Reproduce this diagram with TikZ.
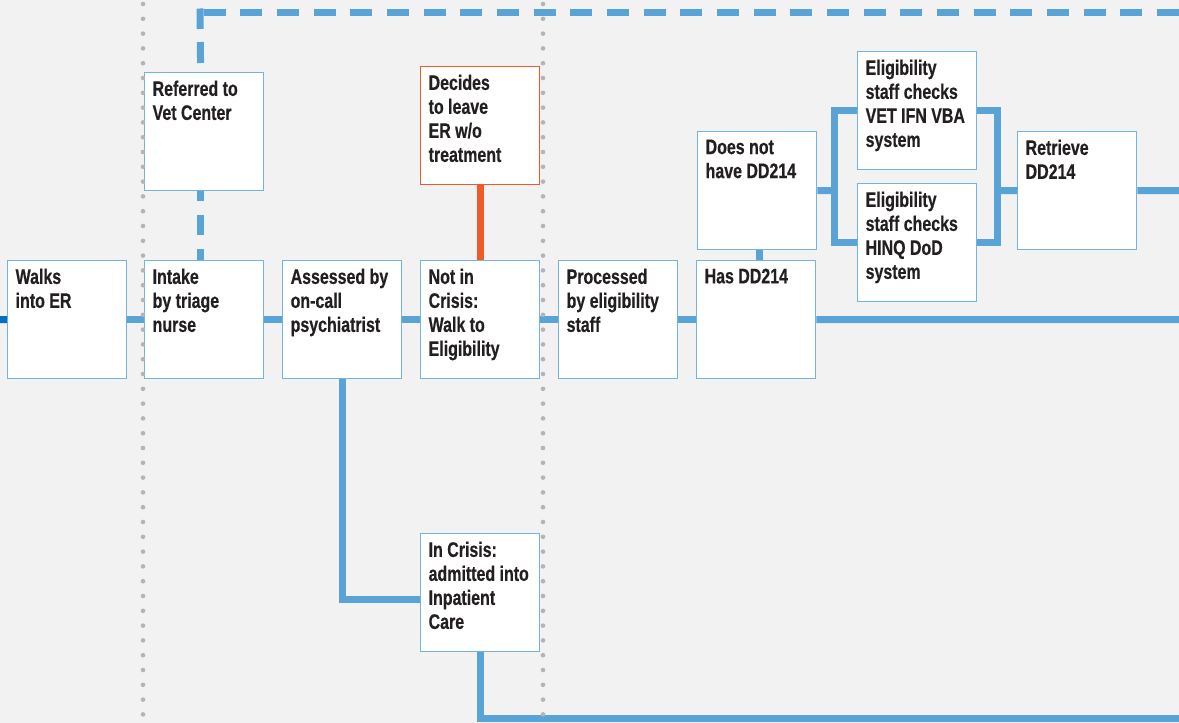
\documentclass[tikz,border=0pt]{standalone}
\usepackage{fontspec}
\newfontfamily\stagefont{Liberation Sans}[FakeStretch=0.76, BoldFeatures={FakeBold=0.4}]
\usepackage{xcolor}
\usepackage{tikz}
\usetikzlibrary{positioning}

\definecolor{bgcol}{HTML}{F2F2F2}
\definecolor{lineblue}{HTML}{5AA3D6}
\definecolor{boxblue}{HTML}{74B3E0}
\definecolor{darkblue}{HTML}{0A6EBD}
\definecolor{leaveorange}{HTML}{F05A28}
\definecolor{dotgray}{HTML}{B4B4B8}
\definecolor{textcol}{HTML}{231F20}

\newcommand{\stagetext}[1]{\parbox[t][102pt][t]{103pt}{\raggedright #1}}

\begin{document}
\begin{tikzpicture}[x=1pt, y=-1pt,
    stage/.style={draw=boxblue, fill=white, line width=1.3pt, anchor=north west,
        inner xsep=8pt, inner ysep=8pt, text=textcol,
        font=\stagefont\bfseries\fontsize{21}{24}\selectfont},
    flow/.style={draw=lineblue, line width=7pt},
    vetdash/.style={draw=lineblue, line width=7pt}]
        % background and page size
        \fill[bgcol] (0,0) rectangle (1179,723);
        \useasboundingbox (0,0) rectangle (1179,723);
        % stages
        \node[stage] (walk) at (7,260) {\stagetext{Walks\\into ER}};
        \node[stage] (intake) at (144,260) {\stagetext{Intake\\by triage\\nurse}};
        \node[stage] (referred) at (144,72) {\stagetext{Referred to\\Vet Center}};
        \node[stage] (assessed) at (282,260) {\stagetext{Assessed by\\on-call\\psychiatrist}};
        \node[stage] (notcrisis) at (420,260) {\stagetext{Not in\\Crisis:\\Walk to\\Eligibility}};
        \node[stage, draw=leaveorange] (leave) at (420,66) 
        {\stagetext{Decides\\to leave\\ER w/o\\treatment}};
        \node[stage] (incrisis) at (420,533) 
        {\stagetext{In Crisis:\\admitted into\\Inpatient\\Care}};
        \node[stage] (processed) at (558,260) {\stagetext{Processed\\by eligibility\\staff}};
        \node[stage] (hasdd) at (696,260) {\stagetext{Has DD214}};
        \node[stage] (nodd) at (697,131) {\stagetext{Does not\\have DD214}};
        \node[stage] (vetifn) at (857,51) 
        {\stagetext{Eligibility\\staff checks\\VET IFN VBA\\system}};
        \node[stage] (hinq) at (857,183) 
        {\stagetext{Eligibility\\staff checks\\HINQ DoD\\system}};
        \node[stage] (retrieve) at (1017,131) {\stagetext{Retrieve\\DD214}};
        % free ends
        \coordinate (lstart) at (0,319.5);
        \coordinate (mainend) at (1179,319.5);
        \coordinate (botend) at (1179,718.5);
        \coordinate (corner) at (200,8.5);
        \coordinate (dashstart) at (203.5,12);
        \coordinate (dashend) at (1179,12);
        \coordinate (lsplit) at (834,190.5);
        \coordinate (rsplit) at (997,190.5);
        \coordinate (retend) at (1179,190.5);
        % main flow
        \draw[flow, draw=darkblue] (lstart) -- (walk.west);
        \draw[flow] (walk.east) -- (intake.west);
        \draw[flow] (intake.east) -- (assessed.west);
        \draw[flow] (assessed.east) -- (notcrisis.west);
        \draw[flow] (notcrisis.east) -- (processed.west);
        \draw[flow] (processed.east) -- (hasdd.west);
        \draw[flow] (hasdd.east) -- (mainend);
        \draw[flow, draw=leaveorange] (leave.south) -- (notcrisis.north);
        \draw[flow] (assessed.south) |- ([yshift=-6.5pt]incrisis.west);
        \draw[flow] (incrisis.south) |- (botend);
        \draw[flow] ([xshift=2.5pt]nodd.south) -- ([xshift=3.5pt]hasdd.north);
        % eligibility checks
        \draw[flow] (nodd.east) -- (lsplit);
        \draw[flow] (vetifn.west) -| (lsplit) |- (hinq.west);
        \draw[flow] (vetifn.east) -| (rsplit) |- (hinq.east);
        \draw[flow] (rsplit) -- (retrieve.west);
        \draw[flow] (retrieve.east) -- (retend);
        % vet center referral
        \draw[vetdash, dash pattern=on 10pt off 14pt on 20pt off 14pt on 20pt] 
        ([xshift=-3.5pt]referred.south) -- ([xshift=-3.5pt]intake.north);
        \draw[vetdash, dash pattern=on 0pt off 9pt on 21pt off 13pt on 40pt] 
        ([xshift=-3.5pt]referred.north) -- (corner);
        \draw[vetdash, dash pattern=on 22pt off 14.67pt] (dashstart) -- (dashend);
        % dotted separators
        \foreach \x in {143,543}
        \draw[dotgray, line width=4.6pt, line cap=round, 
        dash pattern=on 0pt off 14.8pt] (\x,4) -- (\x,730);
    \end{tikzpicture}
\end{document}
